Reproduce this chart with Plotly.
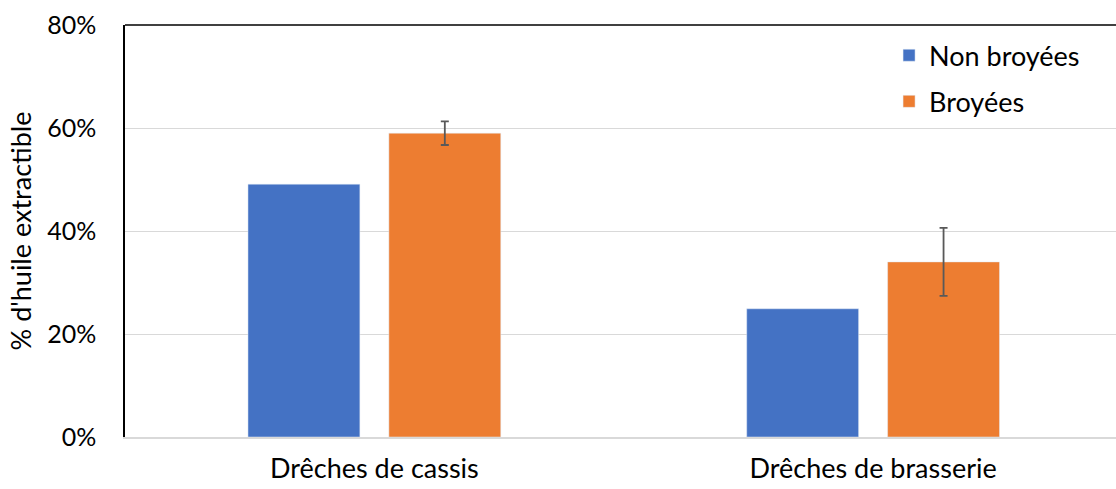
import plotly.graph_objects as go

categories = ["Drêches de cassis", "Drêches de brasserie"]
non_broyees = [0.491, 0.249]
broyees = [0.590, 0.340]
broyees_err = [0.023, 0.066]

fig = go.Figure()
fig.add_trace(go.Bar(
    x=categories, y=non_broyees, name="Non broyées",
    marker=dict(color="#4472C4"), legendgroup="a",
))
fig.add_trace(go.Bar(
    x=categories, y=broyees, name="Broyées",
    marker=dict(color="#ED7D31"), legendgroup="b",
    error_y=dict(type="data", array=broyees_err, visible=True,
                 color="#595959", thickness=1.8, width=4),
))

FS = 27
fig.update_layout(
    width=1116, height=489,
    margin=dict(l=125, r=0, t=25, b=52),
    paper_bgcolor="white", plot_bgcolor="white",
    font=dict(family="Lato, Open Sans, sans-serif", size=FS, color="#000000"),
    barmode="group", bargap=0.435, bargroupgap=0.2057,
    showlegend=True,
    legend=dict(x=0.771, y=0.985, xanchor="left", yanchor="top",
                traceorder="grouped", tracegroupgap=8,
                font=dict(size=FS), bgcolor="rgba(0,0,0,0)"),
    shapes=[dict(type="line", xref="paper", yref="paper", x0=0, x1=1, y0=1, y1=1,
                 line=dict(color="#000000", width=1.5))],
)
fig.update_xaxes(
    range=[-0.5, 1.487], showline=True, linecolor="#D9D9D9", linewidth=1.5,
    ticks="", ticklabelstandoff=7, tickfont=dict(size=FS),
)
fig.update_yaxes(
    range=[0, 0.8], tickvals=[0, 0.2, 0.4, 0.6, 0.8], tickformat=".0%",
    showgrid=True, gridcolor="#D9D9D9", gridwidth=1,
    showline=True, linecolor="#000000", linewidth=1.5,
    ticks="", ticklabelstandoff=22, zeroline=False,
    title=dict(text="% d'huile extractible", standoff=8, font=dict(size=FS)),
    tickfont=dict(size=25),
)
fig.write_html("out.html", config={"displayModeBar": False},
               post_script="document.body.style.margin='0';document.body.style.overflow='hidden';")
